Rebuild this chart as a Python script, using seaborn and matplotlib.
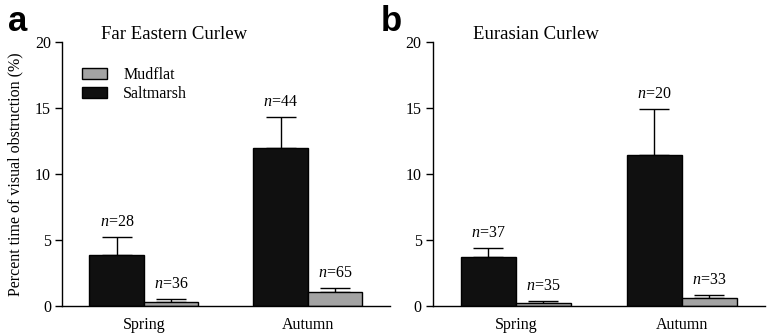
import numpy as np
import pandas as pd
import seaborn as sns
import matplotlib.pyplot as plt
from matplotlib.patches import Patch

sns.set_theme(style="ticks")
plt.rcParams["font.family"] = ["Liberation Serif", "DejaVu Serif"]
plt.rcParams["mathtext.fontset"] = "custom"
plt.rcParams["mathtext.it"] = "Liberation Serif:italic"
plt.rcParams["mathtext.rm"] = "Liberation Serif"
for key in ("text.color", "axes.labelcolor", "xtick.color", "ytick.color",
            "xtick.labelcolor", "ytick.labelcolor"):
    plt.rcParams[key] = "black"

seasons = ["Spring", "Autumn"]
habitats = ["Saltmarsh", "Mudflat"]

# Far Eastern Curlew: mean and upper SE, per season (Spring, Autumn)
fec_salt = [3.85, 12.0]
fec_salt_se = [1.4, 2.3]
fec_mud = [0.3, 1.06]
fec_mud_se = [0.2, 0.34]
fec_salt_n = [28, 44]
fec_mud_n = [36, 65]

# Eurasian Curlew
eur_salt = [3.73, 11.43]
eur_salt_se = [0.69, 3.52]
eur_mud = [0.2, 0.58]
eur_mud_se = [0.15, 0.25]
eur_salt_n = [37, 20]
eur_mud_n = [35, 33]

titles = ["Far Eastern Curlew", "Eurasian Curlew"]
panel_letters = ["a", "b"]
ylabel = "Percent time of visual obstruction (%)"

colors = {"Saltmarsh": "#101010", "Mudflat": "#a3a3a3"}

fig = plt.figure(figsize=(7.77, 3.35), dpi=100)
axes = [fig.add_axes([0.0798, 0.0866, 0.422, 0.788]),
        fig.add_axes([0.557, 0.0866, 0.4273, 0.788])]

panels = [
    (fec_salt, fec_salt_se, fec_salt_n, fec_mud, fec_mud_se, fec_mud_n),
    (eur_salt, eur_salt_se, eur_salt_n, eur_mud, eur_mud_se, eur_mud_n),
]

for i, (ax, (s, sse, sn, m, mse, mn)) in enumerate(zip(axes, panels)):
    df = pd.DataFrame({
        "season": seasons * 2,
        "habitat": ["Saltmarsh"] * 2 + ["Mudflat"] * 2,
        "value": s + m,
        "se": sse + mse,
        "n": sn + mn,
    })
    sns.barplot(data=df, x="season", y="value", hue="habitat",
                order=seasons, hue_order=habitats, palette=colors,
                width=0.665, edgecolor="black", linewidth=1.0,
                errorbar=None, legend=False, ax=ax, zorder=2)

    # upper-only error bars and sample-size labels, one per bar
    for container, hab in zip(ax.containers, habitats):
        sub = df[df["habitat"] == hab].set_index("season").loc[seasons]
        for bar, (_, row) in zip(container, sub.iterrows()):
            xc = bar.get_x() + bar.get_width() / 2
            ax.errorbar(xc, row["value"], yerr=[[0], [row["se"]]],
                        fmt="none", ecolor="black", elinewidth=1.0,
                        capsize=11, capthick=1.0, zorder=1)
            ax.annotate(f"$n$=%d" % row["n"],
                        (xc, row["value"] + row["se"]),
                        xytext=(0, 5), textcoords="offset points",
                        ha="center", va="bottom", fontsize=11.5)

    ax.set_xlim(-0.5, 1.5)
    ax.set_ylim(0, 20)
    ax.set_yticks([0, 5, 10, 15, 20])
    ax.set_xlabel("")
    ax.set_ylabel(ylabel if i == 0 else "", fontsize=11.5, labelpad=8)
    sns.despine(ax=ax)
    for sp in ("left", "bottom"):
        ax.spines[sp].set_color("black")
        ax.spines[sp].set_linewidth(1.0)
    ax.tick_params(axis="y", length=5, width=1.0, colors="black",
                   labelsize=11.5, pad=3)
    ax.tick_params(axis="x", length=0, labelsize=11.5, pad=8,
                   labelcolor="black")
    ax.set_title(titles[i], fontsize=13.5, loc="left",
                 x=0.12, y=1.0, pad=2, color="black")

fig.text(0.010, 0.985, "a", fontsize=25, fontweight="bold",
         family="Liberation Sans", va="top", ha="left", color="black")
fig.text(0.490, 0.985, "b", fontsize=25, fontweight="bold",
         family="Liberation Sans", va="top", ha="left", color="black")

handles = [Patch(facecolor=colors["Mudflat"], edgecolor="black", linewidth=1.0),
           Patch(facecolor=colors["Saltmarsh"], edgecolor="black", linewidth=1.0)]
axes[0].legend(handles, ["Mudflat", "Saltmarsh"], loc="upper left",
               bbox_to_anchor=(0.06, 0.905), frameon=False, fontsize=11.5,
               handlelength=1.6, handleheight=0.7, handletextpad=1.0,
               labelspacing=0.2, borderaxespad=0, borderpad=0)

fig.savefig("out.png", dpi=100)
